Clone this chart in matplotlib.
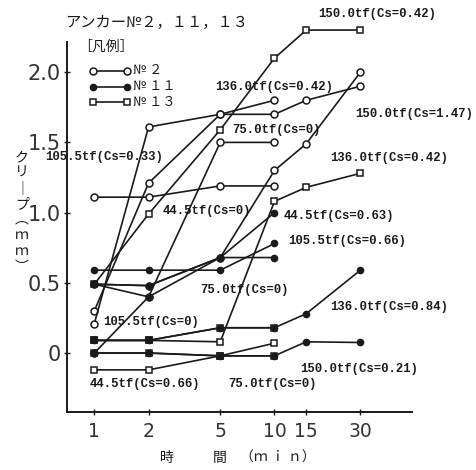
import matplotlib.pyplot as plt
from matplotlib.lines import Line2D

# time (min)
t4 = [1, 2, 5, 10]
t6 = [1, 2, 5, 10, 15, 30]

# creep (mm), anchor No.2 (open circle)
no2_445 = [1.11, 1.11, 1.19, 1.19]
no2_750 = [0.00, 0.40, 1.50, 1.50]
no2_1055 = [0.30, 1.21, 1.70, 1.80]
no2_1360 = [0.21, 1.61, 1.70, 1.70, 1.80, 1.90]
no2_1500 = [0.49, 0.48, 0.68, 1.30, 1.49, 2.00]

# anchor No.11 (filled circle)
no11_445 = [0.49, 0.40, 0.68, 1.00]
no11_750 = [0.49, 0.48, 0.68, 0.68]
no11_1055 = [0.59, 0.59, 0.59, 0.78]
no11_1360 = [0.09, 0.09, 0.18, 0.18, 0.28, 0.59]
no11_1500 = [0.00, 0.00, -0.02, -0.02, 0.08, 0.075]

# anchor No.13 (open square)
no13_445 = [-0.12, -0.12, -0.02, 0.07]
no13_750 = [0.00, 0.00, -0.02, -0.02]
no13_1055 = [0.09, 0.09, 0.18, 0.18]
no13_1360 = [0.09, 0.09, 0.08, 1.08, 1.18, 1.28]
no13_1500 = [0.49, 0.99, 1.59, 2.10, 2.30, 2.30]

W, H = 477, 470
INK = '#1a1a1a'
JP = ['Noto Sans CJK JP', 'DejaVu Sans']
MONO = 'Liberation Mono'


def fx(px):
    return px / W


def fy(py):
    return 1 - py / H


fig = plt.figure(figsize=(W / 100, H / 100), dpi=100)
ax = fig.add_axes([fx(67), fy(412), fx(412) - fx(67), fy(42) - fy(412)])

sq = dict(color=INK, lw=1.2, marker='s', ms=5, mfc='white', mec=INK, mew=1.1)
oc = dict(color=INK, lw=1.2, marker='o', ms=5, mfc='white', mec=INK, mew=1.1)
fc = dict(color=INK, lw=1.2, marker='o', ms=4.5, mfc=INK, mec=INK)

for t, y in [(t4, no13_445), (t4, no13_750), (t4, no13_1055),
             (t6, no13_1360), (t6, no13_1500)]:
    ax.plot(t, y, **sq, zorder=2, clip_on=False)
for t, y in [(t4, no2_445), (t4, no2_750), (t4, no2_1055),
             (t6, no2_1360), (t6, no2_1500)]:
    ax.plot(t, y, **oc, zorder=3, clip_on=False)
for t, y in [(t4, no11_445), (t4, no11_750), (t4, no11_1055),
             (t6, no11_1360), (t6, no11_1500)]:
    ax.plot(t, y, **fc, zorder=4, clip_on=False)

ax.set_xscale('log')
ax.set_xlim(0.705, 58)
ax.set_ylim(-0.42, 2.215)
ax.set_xticks([1, 2, 5, 10, 15, 30])
ax.set_xticklabels(['1', '2', '5', '10', '15', '30'])
ax.minorticks_off()
ax.set_yticks([0, 0.5, 1.0, 1.5, 2.0])
ax.set_yticklabels(['0', '0.5', '1.0', '1.5', '2.0'])
ax.tick_params(direction='inout', length=5, width=1.0, color=INK,
               labelsize=15, labelcolor='#333333', pad=2)
ax.tick_params(axis='x', pad=5, labelsize=13.5)
for s in ['top', 'right']:
    ax.spines[s].set_visible(False)
for s in ['left', 'bottom']:
    ax.spines[s].set_linewidth(1.4)
    ax.spines[s].set_color(INK)

# title and legend
fig.text(fx(65), fy(22), 'アンカー№２，１１，１３', family=JP, fontsize=11,
         va='center', ha='left', color=INK)
fig.text(fx(78), fy(47), '［凡例］', family=JP, fontsize=10,
         va='center', ha='left', color=INK)
for py, kw, lab in [(71, oc, '№ ２'), (87, fc, '№ １１'), (102, sq, '№ １３')]:
    fig.add_artist(Line2D([fx(93), fx(127)], [fy(py), fy(py)], **kw))
    fig.text(fx(133), fy(py), lab, family=JP, fontsize=9.5,
             va='center', ha='left', color=INK)

# curve labels
labels = [
    (318, 14, '150.0tf(Cs=0.42)'),
    (215, 87, '136.0tf(Cs=0.42)'),
    (355, 114, '150.0tf(Cs=1.47)'),
    (232, 130, '75.0tf(Cs=0)'),
    (45, 157, '105.5tf(Cs=0.33)'),
    (330, 158, '136.0tf(Cs=0.42)'),
    (163, 211, '44.5tf(Cs=0)'),
    (284, 216, '44.5tf(Cs=0.63)'),
    (288, 241, '105.5tf(Cs=0.66)'),
    (200, 290, '75.0tf(Cs=0)'),
    (103, 322, '105.5tf(Cs=0)'),
    (330, 307, '136.0tf(Cs=0.84)'),
    (300, 369, '150.0tf(Cs=0.21)'),
    (90, 384, '44.5tf(Cs=0.66)'),
    (228, 384, '75.0tf(Cs=0)'),
]
for px, py, s in labels:
    fig.text(fx(px), fy(py), s, family=MONO, fontweight='bold', fontsize=8.8,
             va='center', ha='left', color=INK)

# axis titles
fig.text(fx(22), fy(212), 'ク\nリ\n｜\nプ\n︵\nｍ\nｍ\n︶', family=JP,
         fontsize=10, va='center', ha='center', linespacing=1.15, color=INK)
fig.text(fx(167), fy(458), '時', family=JP, fontsize=10, va='center',
         ha='center', color=INK)
fig.text(fx(220), fy(458), '間', family=JP, fontsize=10, va='center',
         ha='center', color=INK)
fig.text(fx(240), fy(458), '（ｍ ｉ ｎ）', family=JP, fontsize=10,
         va='center', ha='left', color=INK)

fig.savefig('out.png', dpi=100)
